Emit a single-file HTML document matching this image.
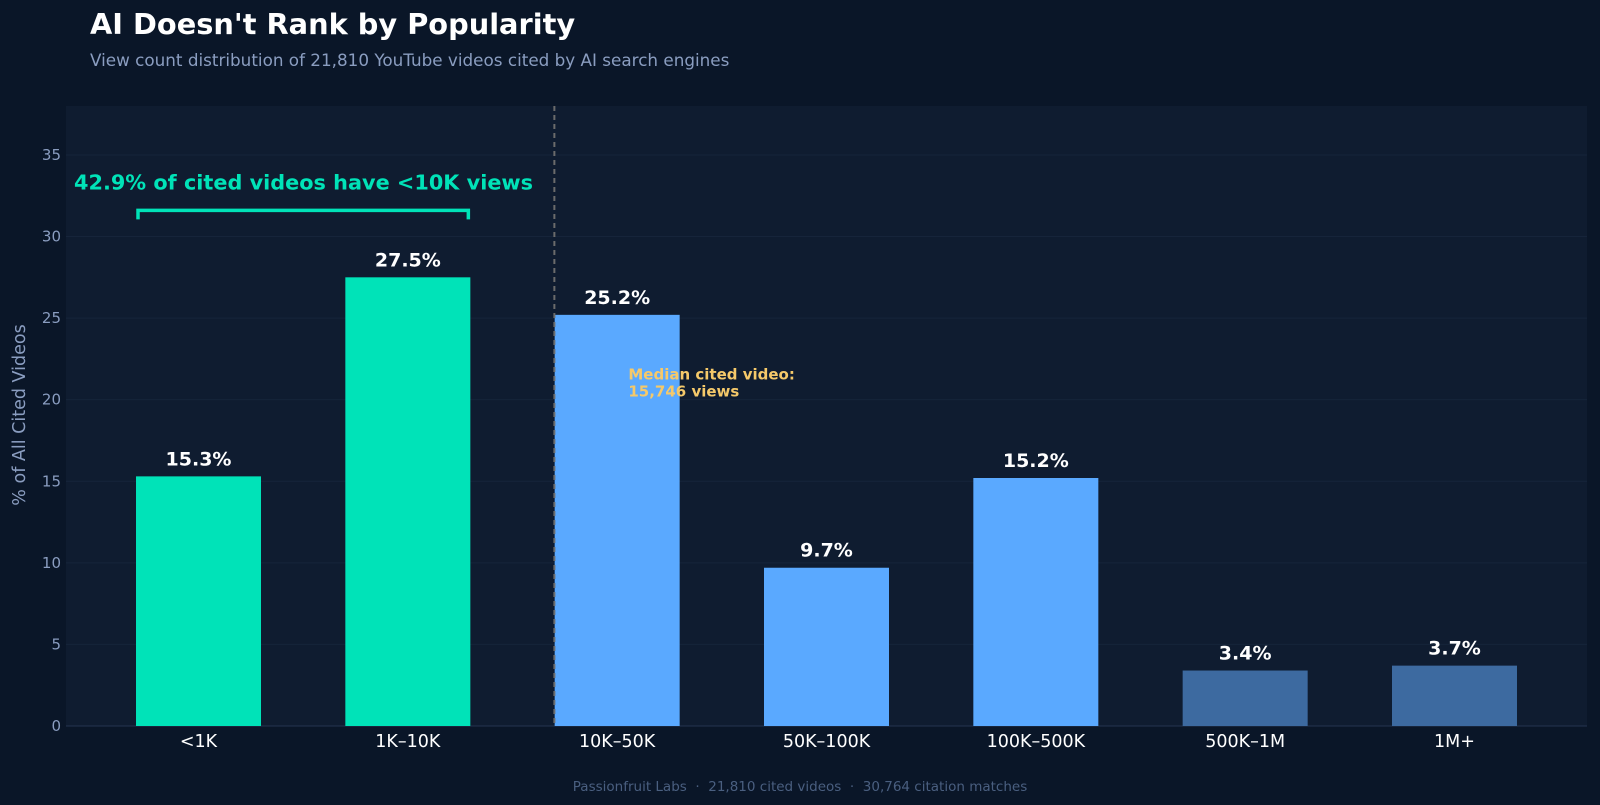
<!DOCTYPE html>
<html><head><meta charset="utf-8"><style>
html,body{margin:0;padding:0;background:#0a1628;width:1600px;height:805px;overflow:hidden}
svg{display:block;font-family:"DejaVu Sans","Liberation Sans",sans-serif}
</style></head><body>
<svg id="chart" width="1600" height="805">
<rect x="0" y="0" width="1600" height="805" fill="#0a1628"/>
<text x="90" y="34" fill="#ffffff" font-size="28.8" font-weight="bold">AI Doesn't Rank by Popularity</text>
<text x="90" y="66" fill="#8a9dc0" font-size="16.8">View count distribution of 21,810 YouTube videos cited by AI search engines</text>
<rect x="66" y="106" width="1521" height="620" fill="#0f1c30"/>
<g id="grid"></g><g id="bars"></g><g id="labels"></g>
<text transform="translate(25,415) rotate(-90)" text-anchor="middle" fill="#8a9dc0" font-size="17.5">% of All Cited Videos</text>
<text x="800" y="791" text-anchor="middle" fill="#4a5f80" font-size="13.5" xml:space="preserve">Passionfruit Labs  ·  21,810 cited videos  ·  30,764 citation matches</text>
</svg>
<script>
const categories=["<1K","1K–10K","10K–50K","50K–100K","100K–500K","500K–1M","1M+"];
const values=[15.3,27.5,25.2,9.7,15.2,3.4,3.7];
const barColors=["#00e3b8","#00e3b8","#5aa9ff","#5aa9ff","#5aa9ff","#3d6aa0","#3d6aa0"];
const yTicks=[0,5,10,15,20,25,30,35];
const medianPos=1.7;
const NS="http://www.w3.org/2000/svg";
const x0=66,x1=1587,yb=726,yt=106;
const xs=i=>x0+(i+0.633)/(7.266)*(x1-x0);
const ys=v=>yb-v/38*(yb-yt);
const bw=125;
function mk(t,a,p){const e=document.createElementNS(NS,t);for(const k in a)e.setAttribute(k,a[k]);p.appendChild(e);return e;}
const grid=document.getElementById('grid'),bars=document.getElementById('bars'),labels=document.getElementById('labels');
yTicks.forEach(t=>{
 const l=mk('line',{x1:x0,x2:x1,y1:ys(t),y2:ys(t),stroke:t===0?'#24344f':'#16243a','stroke-width':1},grid);
 
 
 const tx=mk('text',{x:61,y:ys(t)+5,'text-anchor':'end',fill:'#8a9dc0','font-size':15},grid);
 tx.textContent=t;
 
 
});
values.forEach((v,i)=>{
 const r=mk('rect',{x:xs(i)-bw/2,y:ys(v),width:bw,height:ys(0)-ys(v),fill:barColors[i]},bars);
 
 
 const t=mk('text',{x:xs(i),y:ys(v)-11,'text-anchor':'middle',fill:'#ffffff','font-size':19,'font-weight':'bold'},labels);
 t.textContent=v.toFixed(1)+'%';
 
 
 const c=mk('text',{x:xs(i),y:747,'text-anchor':'middle',fill:'#ffffff','font-size':17.5},labels);
 c.textContent=categories[i];
 
 
});
const mx=xs(medianPos);
const ml=mk('line',{x1:mx,x2:mx,y1:yt,y2:yb,stroke:'#6b6b6b','stroke-width':2,'stroke-dasharray':'5,4'},labels);


const mt=mk('text',{x:mx+74,y:ys(21)-4,fill:'#f5c96a','font-size':15,'font-weight':'bold'},labels);


mk('tspan',{x:mx+74,dy:0},mt).textContent='Median cited video:';
mk('tspan',{x:mx+74,dy:17},mt).textContent='15,746 views';
const by=ys(31.6);
const br=mk('path',{d:`M${xs(0)-bw/2+2},${by+9}V${by}H${xs(1)+bw/2-2}V${by+9}`,fill:'none',stroke:'#00e3b8','stroke-width':3.5},labels);


const bt=mk('text',{x:74,y:ys(33.3)+7,fill:'#00e3b8','font-size':20.8,'font-weight':'bold'},labels);
bt.textContent='42.9% of cited videos have <10K views';


</script>
</body></html>
